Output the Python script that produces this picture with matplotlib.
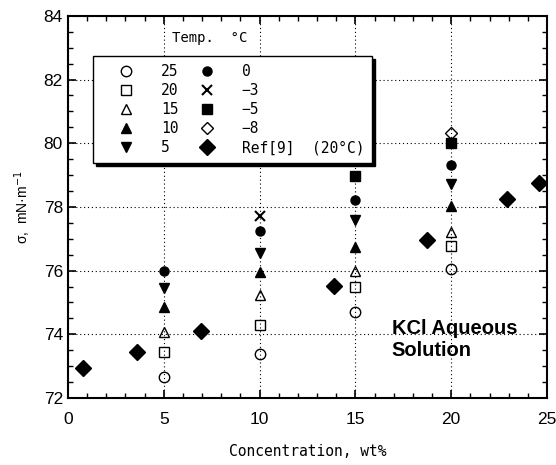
import matplotlib
matplotlib.use("Agg")
import matplotlib.pyplot as plt
from matplotlib.ticker import MultipleLocator

# surface tension of KCl solutions, by temperature (deg C)
conc = [5, 10, 15, 20]
t25 = [72.66, 73.38, 74.69, 76.05]
t20 = [73.46, 74.30, 75.48, 76.78]
t15 = [74.06, 75.25, 76.00, 77.20]
t10 = [74.86, 75.97, 76.75, 78.02]
t5 = [75.46, 76.55, 77.58, 78.73]
t0 = [76.00, 77.25, 78.23, 79.32]
tm3_x = [10]
tm3 = [77.70]
tm5_x = [15, 20]
tm5 = [78.96, 80.00]
tm8_x = [20]
tm8 = [80.33]
ref_x = [0.77, 3.59, 6.95, 13.87, 18.75, 22.93, 24.6]
ref_y = [72.95, 73.43, 74.12, 75.52, 76.96, 78.26, 78.76]

plt.rcParams['font.family'] = ['Liberation Sans', 'DejaVu Sans']
mono = ['DejaVu Sans Mono', 'DejaVu Sans']

fig = plt.figure(figsize=(5.56, 4.65), dpi=100)
ax = fig.add_axes([0.122, 0.144, 0.862, 0.822])

hollow = dict(markerfacecolor='none', markeredgecolor='black', markeredgewidth=1.0, linestyle='none')
solid = dict(color='black', linestyle='none')

h = []
h += ax.plot(conc, t25, marker='o', markersize=7.5, label='25', **hollow)
h += ax.plot(conc, t20, marker='s', markersize=6.5, label='20', **hollow)
h += ax.plot(conc, t15, marker='^', markersize=7, label='15', **hollow)
h += ax.plot(conc, t10, marker='^', markersize=7, label='10', **solid)
h += ax.plot(conc, t5, marker='v', markersize=7, label='5', **solid)
h += ax.plot(conc, t0, marker='o', markersize=6.5, label='0', **solid)
h += ax.plot(tm3_x, tm3, marker='x', markersize=6.5, markeredgewidth=1.5, label='\u22123', **solid)
h += ax.plot(tm5_x, tm5, marker='s', markersize=7, label='\u22125', **solid)
h += ax.plot(tm8_x, tm8, marker='D', markersize=6.5, label='\u22128', **hollow)
h += ax.plot(ref_x, ref_y, marker='D', markersize=8, label='Ref[9]  (20\u00b0C)', **solid)

ax.set_xlim(0, 25)
ax.set_ylim(72, 84)
ax.xaxis.set_major_locator(MultipleLocator(5))
ax.xaxis.set_minor_locator(MultipleLocator(1))
ax.yaxis.set_major_locator(MultipleLocator(2))
ax.yaxis.set_minor_locator(MultipleLocator(0.5))
ax.tick_params(which='both', direction='in', top=True, right=True, labelsize=12.5)
ax.tick_params(which='major', length=6, width=1.2)
ax.tick_params(which='minor', length=3.5, width=1.0)
ax.tick_params(axis='x', pad=10)
for s in ax.spines.values():
    s.set_linewidth(1.5)

ax.grid(True, which='major', color='black', linestyle=(0, (1, 2.5)), linewidth=0.8)
ax.set_axisbelow(True)

ax.set_xlabel('Concentration, wt%', fontsize=10.5, family=mono, labelpad=12)
ax.set_ylabel('\u03c3,  mN\u00b7m$^{-1}$', fontsize=10, labelpad=8)

leg = ax.legend(handles=h, ncol=2, loc='upper left', bbox_to_anchor=(0.052, 0.895),
                frameon=True, fancybox=False, shadow={'color': 'black', 'alpha': 1},
                prop={'family': mono, 'size': 10.5},
                handlelength=3.5, handletextpad=0.65, columnspacing=0.15,
                labelspacing=0.28, borderpad=0.55, borderaxespad=0)
leg.get_frame().set_edgecolor('black')
leg.get_frame().set_linewidth(1.0)
leg.get_frame().set_alpha(1)

ax.text(5.45, 83.3, 'Temp.  \u00b0C', fontsize=10, va='center', ha='left', family=mono)
ax.text(16.9, 73.85, 'KCl Aqueous\nSolution', fontsize=14.5, fontweight='bold',
        va='center', ha='left', linespacing=1.2)

fig.savefig('out.png', dpi=100)
